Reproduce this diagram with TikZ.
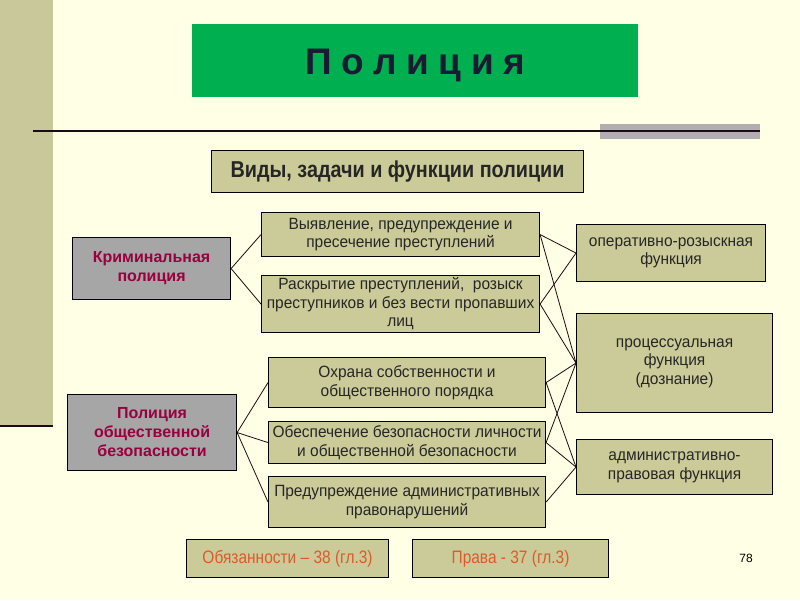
\documentclass[tikz,border=0pt]{standalone}
\usepackage{fontspec}
\setmainfont{Liberation Sans}
\newfontfamily\narrowfont[FakeStretch=0.86]{Liberation Sans}
\newfontfamily\bodyfont[FakeStretch=0.95]{Liberation Sans}
\definecolor{bgc}{HTML}{FFFFE5}
\definecolor{stripec}{HTML}{C9C89A}
\definecolor{tanc}{HTML}{CBCB9A}
\definecolor{grayc}{HTML}{A6A6A6}
\definecolor{greenc}{HTML}{00B050}
\definecolor{bandc}{HTML}{B1ADB0}
\definecolor{darkc}{HTML}{1E0A14}
\definecolor{maroonc}{HTML}{990040}
\definecolor{orangec}{HTML}{DD5A2A}
\definecolor{navyc}{HTML}{1A1A33}
\begin{document}
\begin{tikzpicture}[x=1pt,y=-1pt,
  box/.style={draw=black, line width=1.1pt, fill=tanc, align=center, inner sep=0pt, anchor=north west,
    font=\bodyfont\fontsize{16.3}{18.5}\selectfont, text=black!85},
  graybox/.style={box, fill=grayc, font=\bfseries\fontsize{16}{19}\selectfont, text=maroonc},
  footbox/.style={box, font=\narrowfont\fontsize{18}{21}\selectfont, text=orangec},
  conn/.style={draw=darkc, line width=0.8pt}]
\useasboundingbox (0,0) rectangle (800,600);
\fill[bgc] (0,0) rectangle (800,600);
\fill[stripec] (0,0) rectangle (53,426);
\draw[darkc, line width=2.5pt] (0,426) -- (53,426);
\fill[bandc] (600,124) rectangle (760,139);
\draw[darkc, line width=2.2pt] (33,131) -- (760,131);

\node[fill=greenc, minimum width=446pt, minimum height=73pt, anchor=north west, inner sep=0pt,
  font=\bfseries\fontsize{37}{40}\selectfont, text=navyc, text depth=0pt] (title) at (192,24)
  {\raisebox{-3pt}{П\hspace{0.26em}о\hspace{0.26em}л\hspace{0.26em}и\hspace{0.26em}ц\hspace{0.26em}и\hspace{0.26em}я}};

\node[box, minimum width=372pt, minimum height=42pt, font=\narrowfont\bfseries\fontsize{23}{26}\selectfont] (hdr) at (211,150)
  {Виды, задачи и функции полиции};

\node[graybox, minimum width=158pt, minimum height=62pt] (crim) at (72,237) {Криминальная\\полиция};
\node[graybox, minimum width=169pt, minimum height=76pt] (ob) at (67,394) {Полиция\\общественной\\безопасности};

\node[box, minimum width=278pt, minimum height=44pt] (a1) at (261,212) {Выявление, предупреждение и\\пресечение преступлений};
\node[box, minimum width=278pt, minimum height=57pt] (a2) at (261,275) {Раскрытие преступлений,\ \ розыск\\преступников и без вести пропавших\\лиц};
\node[box, minimum width=277pt, minimum height=50pt] (b1) at (268,357) {Охрана собственности и\\общественного порядка};
\node[box, minimum width=277pt, minimum height=42pt] (b2) at (268,421) {Обеспечение безопасности личности\\и общественной безопасности};
\node[box, minimum width=277pt, minimum height=51pt] (b3) at (268,476) {Предупреждение административных\\правонарушений};

\node[box, minimum width=189pt, minimum height=57pt] (f1) at (576,224) {оперативно-розыскная\\функция};
\node[box, minimum width=196pt, minimum height=99pt] (f2) at (576,313) {процессуальная\\функция\\(дознание)};
\node[box, minimum width=196pt, minimum height=55pt] (f3) at (576,439) {административно-\\правовая функция};

\node[footbox, minimum width=202pt, minimum height=38pt] (o1) at (186,539) {Обязанности – 38 (гл.3)};
\node[footbox, minimum width=196pt, minimum height=38pt] (o2) at (412,539) {Права - 37 (гл.3)};

\node[font=\fontsize{12}{14}\selectfont, inner sep=0pt] (num) at (746,558) {78};

\draw[conn] (crim.east) -- (a1.west);
\draw[conn] (crim.east) -- (a2.west);
\draw[conn] (ob.east) -- (b1.west);
\draw[conn] (ob.east) -- (b2.west);
\draw[conn] (ob.east) -- (b3.west);
\draw[conn] (a1.east) -- (f1.west);
\draw[conn] (a1.east) -- (f2.west);
\draw[conn] (a2.east) -- (f1.west);
\draw[conn] (a2.east) -- (f2.west);
\draw[conn] (b1.east) -- (f2.west);
\draw[conn] (b1.east) -- (f3.west);
\draw[conn] (b2.east) -- (f2.west);
\draw[conn] (b2.east) -- (f3.west);
\draw[conn] (b3.east) -- (f3.west);
\end{tikzpicture}
\end{document}
